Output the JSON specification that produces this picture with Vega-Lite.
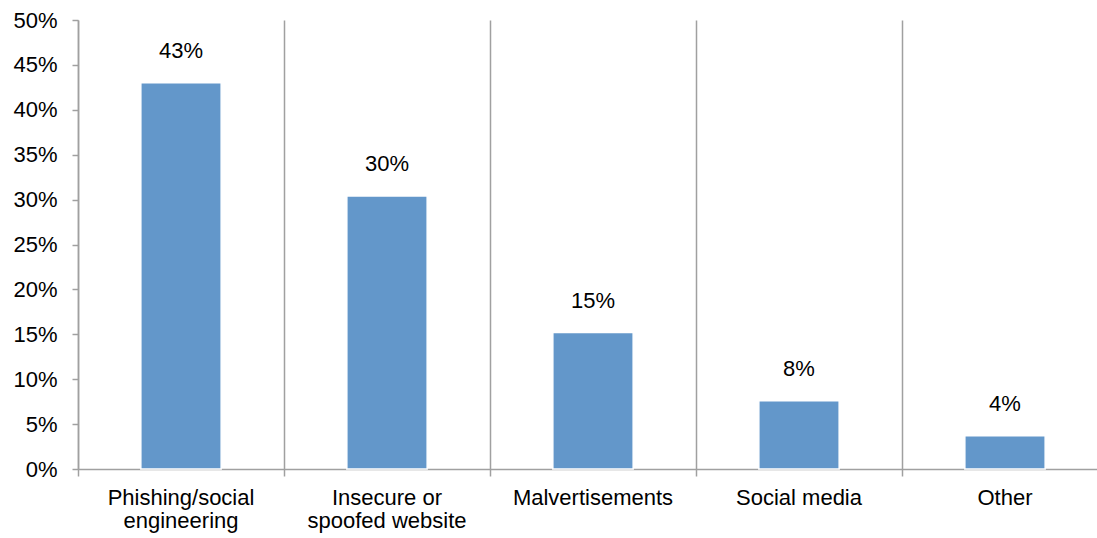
{
  "$schema": "https://vega.github.io/schema/vega-lite/v6.json",
  "autosize": {"type": "none"},
  "padding": {"left": 78, "top": 20, "right": 0, "bottom": 69},
  "width": 1019,
  "height": 449,
  "background": "white",
  "data": {
    "values": [
      {"vector": "Phishing/social engineering", "share": 0.43},
      {"vector": "Insecure or spoofed website", "share": 0.304},
      {"vector": "Malvertisements", "share": 0.152},
      {"vector": "Social media", "share": 0.076},
      {"vector": "Other", "share": 0.037}
    ]
  },
  "config": {
    "view": {"stroke": null},
    "font": "Liberation Sans",
    "axis": {"labelFont": "Liberation Sans", "labelColor": "#000000", "domainColor": "#a0a0a0", "tickColor": "#a0a0a0", "gridColor": "#a0a0a0", "domainWidth": 1.5, "tickWidth": 1.5, "gridWidth": 1.5, "labelOverlap": false}
  },
  "encoding": {
    "x": {
      "field": "vector", "type": "nominal", "sort": null,
      "scale": {"range": [0, 1030], "paddingInner": 0, "paddingOuter": 0},
      "axis": {
        "title": null, "labelAngle": 0, "labelFontSize": 22, "labelPadding": 11,
        "tickSize": 7, "bandPosition": 0, "grid": true, "labelLineHeight": 23,
        "labelExpr": "datum.label == 'Phishing/social engineering' ? ['Phishing/social', 'engineering'] : datum.label == 'Insecure or spoofed website' ? ['Insecure or', 'spoofed website'] : datum.label"
      }
    },
    "y": {
      "field": "share", "type": "quantitative",
      "scale": {"domain": [0, 0.5]},
      "axis": {"title": null, "format": ".0%", "values": [0,0.05,0.1,0.15,0.2,0.25,0.3,0.35,0.4,0.45,0.5], "grid": false, "labelFontSize": 22, "tickSize": 6, "labelPadding": 15}
    }
  },
  "layer": [
    {"mark": {"type": "bar", "width": {"band": 0.39}, "color": "#6397CA", "stroke": "#ffffff", "strokeWidth": 1.5}},
    {"mark": {"type": "text", "fontSize": 22, "dy": -25, "baseline": "alphabetic", "color": "#000000"},
     "encoding": {"text": {"field": "share", "type": "quantitative", "format": ".0%"}}}
  ]
}
